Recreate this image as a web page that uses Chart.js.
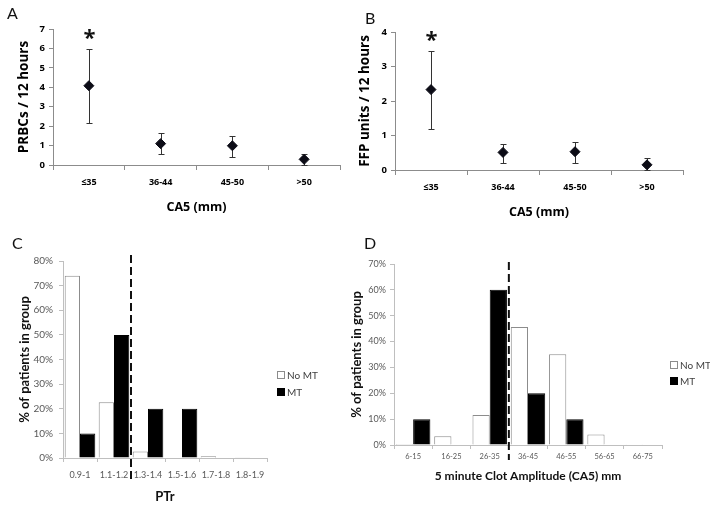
<!DOCTYPE html>
<html>
<head>
<meta charset="utf-8">
<script src="https://cdn.jsdelivr.net/npm/chart.js@4.4.1/dist/chart.umd.min.js"></script>
<style>
  html, body { margin: 0; padding: 0; background: #fff; }
  #page { position: relative; width: 710px; height: 506px; overflow: hidden; font-family: Lato, 'Open Sans', sans-serif; }
  #page canvas { position: absolute; }
  .tag { position: absolute; font-size: 16px; line-height: 1; color: #111; }
</style>
</head>
<body>
<div id="page">
  <canvas id="chartA" width="355" height="225" style="left:0;top:0"></canvas>
  <canvas id="chartB" width="355" height="225" style="left:355px;top:0"></canvas>
  <canvas id="chartC" width="355" height="281" style="left:0;top:225px"></canvas>
  <canvas id="chartD" width="365" height="281" style="left:345px;top:225px"></canvas>
  <div class="tag" style="left:7px;top:5px">A</div>
  <div class="tag" style="left:365px;top:10px">B</div>
  <div class="tag" style="left:12px;top:235px">C</div>
  <div class="tag" style="left:364px;top:235px">D</div>
</div>
<script>
// panels A and B: mean with error bars per CA5 group
const ca5Groups = ['≤35', '36-44', '45-50', '>50'];
const prbcMean = [4.08, 1.1, 0.99, 0.29];
const prbcLow = [2.16, 0.55, 0.43, 0.02];
const prbcHigh = [5.99, 1.63, 1.5, 0.55];
const prbcTicks = [0, 1, 2, 3, 4, 5, 6, 7];
const ffpMean = [2.33, 0.51, 0.53, 0.15];
const ffpLow = [1.2, 0.21, 0.2, 0.0];
const ffpHigh = [3.44, 0.75, 0.82, 0.34];
const ffpTicks = [0, 1, 2, 3, 4];
const significant = [true, false, false, false];

// panel C: PTr distribution
const ptrBins = ['0.9-1', '1.1-1.2', '1.3-1.4', '1.5-1.6', '1.7-1.8', '1.8-1.9'];
const ptrNoMT = [74, 22.6, 2.6, 0, 0.7, 0.3];
const ptrMT = [10, 50, 20, 20, 0, 0];
const ptrTicks = [0, 10, 20, 30, 40, 50, 60, 70, 80];
const ptrCutAfter = 1;

// panel D: CA5 distribution
const clotBins = ['6-15', '16-25', '26-35', '36-45', '46-55', '56-65', '66-75'];
const clotNoMT = [0.4, 3.4, 11.6, 45.6, 35.1, 4.1, 0.3];
const clotMT = [10, 0, 60, 20, 10, 0, 0];
const clotTicks = [0, 10, 20, 30, 40, 50, 60, 70];
const clotCutAfter = 2;

Chart.defaults.font.family = "Lato, 'Open Sans', sans-serif";
Chart.defaults.color = '#111';
const boldFont = "'Open Sans', Lato, sans-serif";

const errorBars = {
    id: 'errorBars',
    beforeDatasetsDraw(chart, args, opts) {
        if (!opts.low) return;
        const { ctx, scales: { x, y } } = chart;
        ctx.save();
        ctx.strokeStyle = '#333';
        ctx.lineWidth = 1;
        ctx.fillStyle = '#111';
        ctx.font = "bold 22px 'Open Sans', sans-serif";
        ctx.textAlign = 'center';
        ctx.textBaseline = 'middle';
        opts.low.forEach((lo, i) => {
            const px = Math.round(x.getPixelForValue(i)) + 0.5;
            const top = Math.round(y.getPixelForValue(opts.high[i])) + 0.5;
            const bot = Math.round(y.getPixelForValue(lo)) + 0.5;
            ctx.beginPath();
            ctx.moveTo(px, top); ctx.lineTo(px, bot);
            ctx.moveTo(px - 3, top); ctx.lineTo(px + 3, top);
            ctx.moveTo(px - 3, bot); ctx.lineTo(px + 3, bot);
            ctx.stroke();
            if (opts.marks && opts.marks[i]) ctx.fillText('*', px, top - 11);
        });
        ctx.restore();
    }
};

const cutLine = {
    id: 'cutLine',
    afterDatasetsDraw(chart, args, opts) {
        if (opts.after === undefined) return;
        const { ctx, chartArea, scales: { x } } = chart;
        const px = (x.getPixelForValue(opts.after) + x.getPixelForValue(opts.after + 1)) / 2;
        ctx.save();
        ctx.strokeStyle = '#111';
        ctx.lineWidth = 2;
        ctx.setLineDash([8, 4]);
        ctx.beginPath();
        ctx.moveTo(px, chartArea.top - opts.above);
        ctx.lineTo(px, chartArea.bottom + opts.below);
        ctx.stroke();
        ctx.restore();
    }
};

const sideLegend = {
    id: 'sideLegend',
    afterDraw(chart, args, opts) {
        if (opts.x === undefined) return;
        const { ctx } = chart;
        ctx.save();
        ctx.font = opts.size + 'px Lato, sans-serif';
        ctx.textBaseline = 'middle';
        chart.data.datasets.forEach((ds, i) => {
            const cy = Math.round(opts.y + i * opts.gap);
            ctx.fillStyle = ds.backgroundColor;
            ctx.fillRect(opts.x, cy - 4, 8, 8);
            ctx.strokeStyle = ds.borderColor;
            ctx.lineWidth = 1;
            ctx.strokeRect(opts.x + 0.5, cy - 3.5, 7, 7);
            ctx.fillStyle = '#404040';
            ctx.fillText(ds.label, opts.x + 10, cy + 0.5);
        });
        ctx.restore();
    }
};

Chart.register(errorBars, cutLine, sideLegend);

function dotChart(id, mean, low, high, ticks, yTitle, box) {
    return new Chart(document.getElementById(id), {
        type: 'line',
        data: {
            labels: ca5Groups,
            datasets: [{
                data: mean,
                showLine: false,
                pointStyle: 'rectRot',
                pointRadius: 5,
                backgroundColor: '#0c0c16',
                borderColor: '#0c0c16'
            }]
        },
        options: {
            responsive: false,
            animation: false,
            events: [],
            layout: { padding: box.padding },
            plugins: {
                legend: { display: false },
                tooltip: { enabled: false },
                errorBars: { low: low, high: high, marks: significant }
            },
            scales: {
                y: {
                    min: ticks[0],
                    max: ticks[ticks.length - 1],
                    afterBuildTicks: s => { s.ticks = ticks.map(v => ({ value: v })); },
                    afterFit: s => { s.width = box.yWidth; },
                    grid: { drawOnChartArea: false, tickLength: 4, color: '#8c8c8c' },
                    border: { color: '#8c8c8c' },
                    ticks: { padding: 4, color: '#000', font: { family: boldFont, size: 9.5, weight: 'bold' } },
                    title: {
                        display: true,
                        text: yTitle,
                        color: '#000',
                        font: { family: boldFont, size: 13.5, weight: 'bold' },
                        padding: { top: box.yTitlePad, bottom: 0 }
                    }
                },
                x: {
                    offset: true,
                    afterFit: s => { s.height = box.xHeight; },
                    grid: { offset: true, drawOnChartArea: false, tickLength: 5, color: '#8c8c8c' },
                    border: { color: '#8c8c8c' },
                    ticks: {
                        padding: 7, color: '#000', maxRotation: 0, autoSkip: false,
                        font: { family: boldFont, size: 9, weight: 'bold' }
                    },
                    title: {
                        display: true,
                        text: 'CA5 (mm)',
                        color: '#000',
                        font: { family: boldFont, size: 12.5, weight: 'bold' },
                        padding: { top: 0, bottom: box.xTitlePad }
                    }
                }
            }
        }
    });
}

function barChart(id, labels, noMT, mt, ticks, xTitle, box) {
    return new Chart(document.getElementById(id), {
        type: 'bar',
        data: {
            labels: labels,
            datasets: [{
                label: 'No MT',
                data: noMT,
                backgroundColor: '#ffffff',
                borderColor: '#8c8c8c',
                borderWidth: 1,
                barPercentage: 1,
                categoryPercentage: 0.9
            }, {
                label: 'MT',
                data: mt,
                backgroundColor: '#000000',
                borderColor: '#000000',
                borderWidth: 1,
                barPercentage: 1,
                categoryPercentage: 0.9
            }]
        },
        options: {
            responsive: false,
            animation: false,
            events: [],
            layout: { padding: box.padding },
            plugins: {
                legend: { display: false },
                tooltip: { enabled: false },
                cutLine: box.cut,
                sideLegend: box.legend
            },
            scales: {
                y: {
                    min: ticks[0],
                    max: ticks[ticks.length - 1],
                    afterBuildTicks: s => { s.ticks = ticks.map(v => ({ value: v })); },
                    afterFit: s => { s.width = box.yWidth; },
                    grid: { drawOnChartArea: false, tickLength: 4, color: '#bfbfbf' },
                    border: { color: '#bfbfbf' },
                    ticks: {
                        padding: box.yTickPad,
                        color: '#595959',
                        font: { size: box.yTickSize },
                        callback: v => v + '%'
                    },
                    title: {
                        display: true,
                        text: '% of patients in group',
                        color: '#111',
                        font: { size: 13, weight: 'bold' },
                        padding: { top: box.yTitlePad, bottom: 0 }
                    }
                },
                x: {
                    afterFit: s => { s.height = box.xHeight; },
                    grid: { drawOnChartArea: false, tickLength: 4, color: '#bfbfbf' },
                    border: { color: '#bfbfbf' },
                    ticks: {
                        padding: box.xTickPad, color: '#595959', maxRotation: 0, autoSkip: false,
                        font: { size: box.xTickSize }
                    },
                    title: {
                        display: true,
                        text: xTitle,
                        color: '#111',
                        font: { size: box.xTitleSize, weight: 'bold' },
                        padding: { top: 0, bottom: box.xTitlePad }
                    }
                }
            }
        }
    });
}

dotChart('chartA', prbcMean, prbcLow, prbcHigh, prbcTicks, 'PRBCs / 12 hours', {
    padding: { left: 0, right: 15, top: 29, bottom: 0 },
    yWidth: 53, xHeight: 60, yTitlePad: 16, xTitlePad: 10
});

dotChart('chartB', ffpMean, ffpLow, ffpHigh, ffpTicks, 'FFP units / 12 hours', {
    padding: { left: 0, right: 27, top: 32, bottom: 0 },
    yWidth: 40, xHeight: 55, yTitlePad: 2, xTitlePad: 5
});

barChart('chartC', ptrBins, ptrNoMT, ptrMT, ptrTicks, 'PTr', {
    padding: { left: 0, right: 88, top: 36, bottom: 0 },
    yWidth: 63, xHeight: 48, yTitlePad: 17, xTitlePad: 1,
    yTickPad: 6, yTickSize: 10, xTickPad: 8, xTickSize: 9, xTitleSize: 13,
    cut: { after: ptrCutAfter, above: 6, below: 25 },
    legend: { x: 277, y: 150, gap: 17, size: 10 }
});

barChart('chartD', clotBins, clotNoMT, clotMT, clotTicks, '5 minute Clot Amplitude (CA5) mm', {
    padding: { left: 0, right: 48, top: 39, bottom: 0 },
    yWidth: 49, xHeight: 61, yTitlePad: 4, xTitlePad: 23,
    yTickPad: 4, yTickSize: 9, xTickPad: 3, xTickSize: 7.5, xTitleSize: 12,
    cut: { after: clotCutAfter, above: 2, below: 15 },
    legend: { x: 325, y: 140, gap: 16, size: 10 }
});
</script>
</body>
</html>
